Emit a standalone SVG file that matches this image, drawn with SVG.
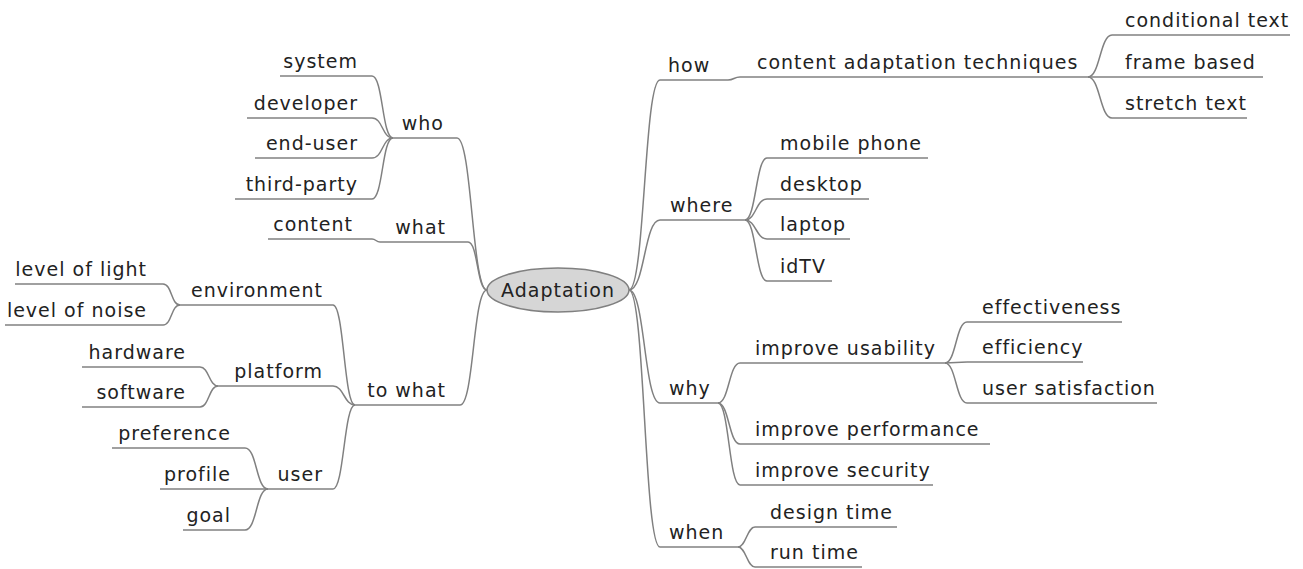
<svg xmlns="http://www.w3.org/2000/svg" width="1303" height="569" viewBox="0 0 1303 569">
  <style>
    .t { font-family: "DejaVu Sans", "Liberation Sans", sans-serif; font-size: 19px; letter-spacing: 1px; fill: #222; }
    .e { text-anchor: end; }
    .l { stroke: #808080; stroke-width: 1.5; fill: none; }
  </style>
  <rect width="1303" height="569" fill="#ffffff"/>

  <!-- connectors between nodes -->
  <g id="connectors" class="l">
    <!-- right side from root -->
    <path d="M629 290 C645 290 644 80 660 80"/>
    <path d="M629 290 C645 290 644 220 660 220"/>
    <path d="M629 290 C645 290 644 403 660 403"/>
    <path d="M629 290 C645 290 644 547 660 547"/>
    <!-- how -> content adaptation techniques -->
    <path d="M728 80 C734 80 734 77 740 77"/>
    <!-- content adaptation techniques -> children -->
    <path d="M1088 77 C1100 77 1100 35 1112 35"/>
    <path d="M1088 77 L1112 77"/>
    <path d="M1088 77 C1100 77 1100 118 1112 118"/>
    <!-- where -> devices -->
    <path d="M745 220 C756 220 756 158 767 158"/>
    <path d="M745 220 C756 220 756 199 767 199"/>
    <path d="M745 220 C756 220 756 239 767 239"/>
    <path d="M745 220 C756 220 756 281 767 281"/>
    <!-- why -> reasons -->
    <path d="M718 403 C729 403 729 363 740 363"/>
    <path d="M718 403 C729 403 729 444 740 444"/>
    <path d="M718 403 C729 403 729 485 740 485"/>
    <!-- improve usability -> aspects -->
    <path d="M945 363 C956 363 956 322 967 322"/>
    <path d="M945 363 L967 362"/>
    <path d="M945 363 C956 363 956 403 967 403"/>
    <!-- when -> times -->
    <path d="M738 547 C746 547 747 527 755 527"/>
    <path d="M738 547 C746 547 747 567 755 567"/>

    <!-- left side from root -->
    <path d="M487 290 C472 290 472 138 457 138"/>
    <path d="M487 290 C477 290 478 242 468 242"/>
    <path d="M487 290 C473 290 474 405 460 405"/>
    <!-- who -> actors -->
    <path d="M393 138 C382 138 383 76 372 76"/>
    <path d="M393 138 C382 138 383 118 372 118"/>
    <path d="M393 138 C382 138 383 158 372 158"/>
    <path d="M393 138 C382 138 383 199 372 199"/>
    <!-- what -> content -->
    <path d="M380 242 C376 242 376 239 372 239"/>
    <!-- to what -> targets -->
    <path d="M355 405 C344 405 344 305 333 305"/>
    <path d="M355 405 C344 405 344 386 333 386"/>
    <path d="M355 405 C344 405 344 489 333 489"/>
    <!-- environment -> factors -->
    <path d="M180 305 C171 305 172 284 163 284"/>
    <path d="M180 305 C171 305 172 325 163 325"/>
    <!-- platform -> parts -->
    <path d="M218 386 C209 386 209 367 200 367"/>
    <path d="M218 386 C209 386 209 407 200 407"/>
    <!-- user -> aspects -->
    <path d="M268 489 C256 489 257 448 245 448"/>
    <path d="M268 489 L245 489"/>
    <path d="M268 489 C256 489 257 530 245 530"/>
  </g>

  <!-- root -->
  <g id="root">
    <ellipse cx="558" cy="290" rx="71" ry="22" fill="#d6d6d6" stroke="#808080" stroke-width="1.5"/>
    <text class="t" x="558" y="297" text-anchor="middle">Adaptation</text>
  </g>

  <!-- right branch: how -->
  <g id="how"><path class="l" d="M660 80 H728"/><text class="t" x="668" y="72">how</text></g>
  <g id="content-adaptation-techniques"><path class="l" d="M740 77 H1088"/><text class="t" x="757" y="69">content adaptation techniques</text></g>
  <g id="conditional-text"><path class="l" d="M1112 35 H1290"/><text class="t" x="1125" y="27">conditional text</text></g>
  <g id="frame-based"><path class="l" d="M1112 77 H1263"/><text class="t" x="1125" y="69">frame based</text></g>
  <g id="stretch-text"><path class="l" d="M1112 118 H1247"/><text class="t" x="1125" y="110">stretch text</text></g>

  <!-- right branch: where -->
  <g id="where"><path class="l" d="M660 220 H745"/><text class="t" x="670" y="212">where</text></g>
  <g id="mobile-phone"><path class="l" d="M767 158 H928"/><text class="t" x="780" y="150">mobile phone</text></g>
  <g id="desktop"><path class="l" d="M767 199 H869"/><text class="t" x="780" y="191">desktop</text></g>
  <g id="laptop"><path class="l" d="M767 239 H850"/><text class="t" x="780" y="231">laptop</text></g>
  <g id="idtv"><path class="l" d="M767 281 H832"/><text class="t" x="780" y="273">idTV</text></g>

  <!-- right branch: why -->
  <g id="why"><path class="l" d="M660 403 H718"/><text class="t" x="669" y="395">why</text></g>
  <g id="improve-usability"><path class="l" d="M740 363 H945"/><text class="t" x="755" y="355">improve usability</text></g>
  <g id="improve-performance"><path class="l" d="M740 444 H990"/><text class="t" x="755" y="436">improve performance</text></g>
  <g id="improve-security"><path class="l" d="M740 485 H933"/><text class="t" x="755" y="477">improve security</text></g>
  <g id="effectiveness"><path class="l" d="M967 322 H1122"/><text class="t" x="982" y="314">effectiveness</text></g>
  <g id="efficiency"><path class="l" d="M967 362 H1083"/><text class="t" x="982" y="354">efficiency</text></g>
  <g id="user-satisfaction"><path class="l" d="M967 403 H1157"/><text class="t" x="982" y="395">user satisfaction</text></g>

  <!-- right branch: when -->
  <g id="when"><path class="l" d="M660 547 H738"/><text class="t" x="669" y="539">when</text></g>
  <g id="design-time"><path class="l" d="M755 527 H897"/><text class="t" x="770" y="519">design time</text></g>
  <g id="run-time"><path class="l" d="M755 567 H862"/><text class="t" x="770" y="559">run time</text></g>

  <!-- left branch: who -->
  <g id="who"><path class="l" d="M393 138 H457"/><text class="t e" x="444" y="130">who</text></g>
  <g id="system"><path class="l" d="M280 76 H372"/><text class="t e" x="358" y="68">system</text></g>
  <g id="developer"><path class="l" d="M247 118 H372"/><text class="t e" x="358" y="110">developer</text></g>
  <g id="end-user"><path class="l" d="M255 158 H372"/><text class="t e" x="358" y="150">end-user</text></g>
  <g id="third-party"><path class="l" d="M235 199 H372"/><text class="t e" x="358" y="191">third-party</text></g>

  <!-- left branch: what -->
  <g id="what"><path class="l" d="M380 242 H468"/><text class="t e" x="446" y="234">what</text></g>
  <g id="content"><path class="l" d="M268 239 H372"/><text class="t e" x="353" y="231">content</text></g>

  <!-- left branch: to what -->
  <g id="to-what"><path class="l" d="M355 405 H460"/><text class="t e" x="446" y="397">to what</text></g>
  <g id="environment"><path class="l" d="M180 305 H333"/><text class="t e" x="323" y="297">environment</text></g>
  <g id="level-of-light"><path class="l" d="M15 284 H163"/><text class="t e" x="147" y="276">level of light</text></g>
  <g id="level-of-noise"><path class="l" d="M5 325 H163"/><text class="t e" x="147" y="317">level of noise</text></g>
  <g id="platform"><path class="l" d="M218 386 H333"/><text class="t e" x="323" y="378">platform</text></g>
  <g id="hardware"><path class="l" d="M82 367 H200"/><text class="t e" x="186" y="359">hardware</text></g>
  <g id="software"><path class="l" d="M82 407 H200"/><text class="t e" x="186" y="399">software</text></g>
  <g id="user"><path class="l" d="M268 489 H333"/><text class="t e" x="323" y="481">user</text></g>
  <g id="preference"><path class="l" d="M112 448 H245"/><text class="t e" x="231" y="440">preference</text></g>
  <g id="profile"><path class="l" d="M160 489 H245"/><text class="t e" x="231" y="481">profile</text></g>
  <g id="goal"><path class="l" d="M183 530 H245"/><text class="t e" x="231" y="522">goal</text></g>
</svg>
